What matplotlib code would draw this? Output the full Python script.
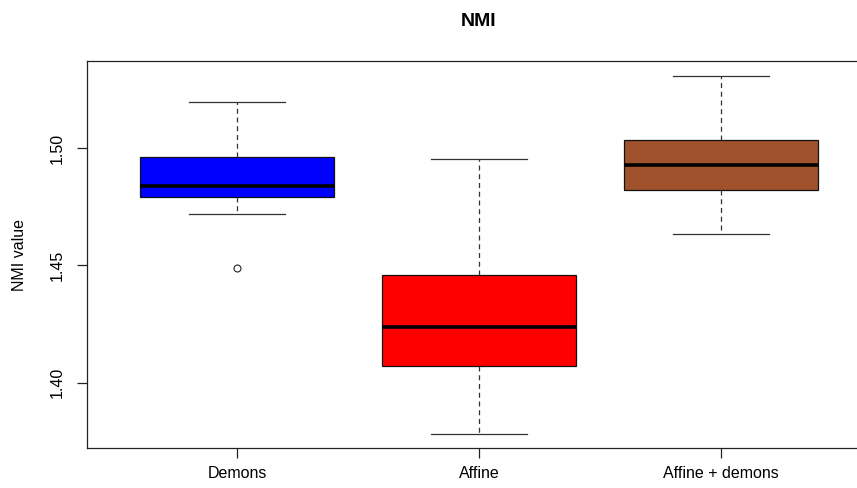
import matplotlib
matplotlib.use("Agg")
import matplotlib.pyplot as plt

plt.rcParams['font.family'] = ['Liberation Sans', 'DejaVu Sans']

# five-number summaries per method, plus outliers
groups = ["Demons", "Affine", "Affine + demons"]
whisker_low = [1.4718, 1.3782, 1.4633]
box_low = [1.4794, 1.4070, 1.4821]
medians = [1.4839, 1.4239, 1.4929]
box_high = [1.4964, 1.4461, 1.5034]
whisker_high = [1.5198, 1.4956, 1.5308]
outliers = [[1.4488], [], []]
fill_colors = ["#0000FF", "#FF0000", "#A0522D"]

stats = []
for i, name in enumerate(groups):
    stats.append({
        "label": name,
        "whislo": whisker_low[i],
        "q1": box_low[i],
        "med": medians[i],
        "q3": box_high[i],
        "whishi": whisker_high[i],
        "fliers": outliers[i],
    })

fig = plt.figure(figsize=(8.57, 4.88), dpi=100)
ax = fig.add_axes([87 / 857, 39.7 / 488, 784 / 857, 387.3 / 488])

bp = ax.bxp(
    stats,
    positions=[1, 2, 3],
    widths=0.8,
    capwidths=0.4,
    patch_artist=True,
    boxprops=dict(edgecolor="#111111", linewidth=0.9),
    medianprops=dict(color="black", linewidth=2.6, solid_capstyle="butt"),
    whiskerprops=dict(color="#333333", linewidth=0.9, linestyle=(0, (4, 3))),
    capprops=dict(color="#333333", linewidth=0.9),
    flierprops=dict(marker="o", markersize=5, markerfacecolor="none",
                    markeredgecolor="#222222", markeredgewidth=0.8),
)
for patch, c in zip(bp["boxes"], fill_colors):
    patch.set_facecolor(c)

ax.set_xlim(0.38, 3.62)
ax.set_ylim(1.372, 1.5372)
ax.set_yticks([1.40, 1.45, 1.50])
ax.set_yticklabels(["1.40", "1.45", "1.50"])
ax.set_xticks([1, 2, 3])
ax.set_xticklabels(groups)

for side in ["left", "top", "bottom", "right"]:
    ax.spines[side].set_color("#222222")
    ax.spines[side].set_linewidth(0.9)

ax.tick_params(axis="both", length=7, width=0.9, color="#222222", labelsize=11.5)
ax.tick_params(axis="x", pad=6)
ax.tick_params(axis="y", pad=9)
for lbl in ax.get_yticklabels():
    lbl.set_rotation(90)
    lbl.set_va("center")

ax.set_title("NMI", fontsize=14, fontweight="bold", pad=25)
ax.set_ylabel("NMI value", fontsize=11.5)
ax.yaxis.set_label_coords(-0.076, 0.5)

fig.savefig("out.png", dpi=100)
